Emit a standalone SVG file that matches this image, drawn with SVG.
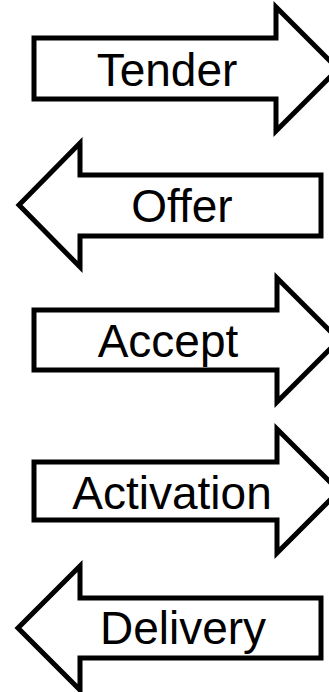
<svg xmlns="http://www.w3.org/2000/svg" width="329" height="692" viewBox="0 0 329 692">
  <style>
    .arrow { fill: #ffffff; stroke: #000000; stroke-width: 5; stroke-linejoin: miter; stroke-miterlimit: 10; }
    .label { font-family: "Liberation Sans", Arial, sans-serif; font-size: 46px; fill: #000000; text-anchor: middle; }
  </style>
  <rect width="329" height="692" fill="#ffffff"/>
  <g id="connectors"></g>
  <g id="tender">
    <path class="arrow" d="M34,38 H276 V7 L338,69 L276,131 V99 H34 Z"/>
    <text class="label" x="167" y="86">Tender</text>
  </g>
  <g id="offer">
    <path class="arrow" d="M321,175 H80 V143 L19,205 L80,267 V236 H321 Z"/>
    <text class="label" x="182" y="222">Offer</text>
  </g>
  <g id="accept">
    <path class="arrow" d="M34,310 H277 V278 L339,340 L277,402 V370 H34 Z"/>
    <text class="label" x="168" y="357">Accept</text>
  </g>
  <g id="activation">
    <path class="arrow" d="M34,462 H277 V429 L339,491 L277,553 V520 H34 Z"/>
    <text class="label" x="172" y="509">Activation</text>
  </g>
  <g id="delivery">
    <path class="arrow" d="M321,598 H80 V566 L18,628 L80,690 V658 H321 Z"/>
    <text class="label" x="183" y="644">Delivery</text>
  </g>
</svg>
